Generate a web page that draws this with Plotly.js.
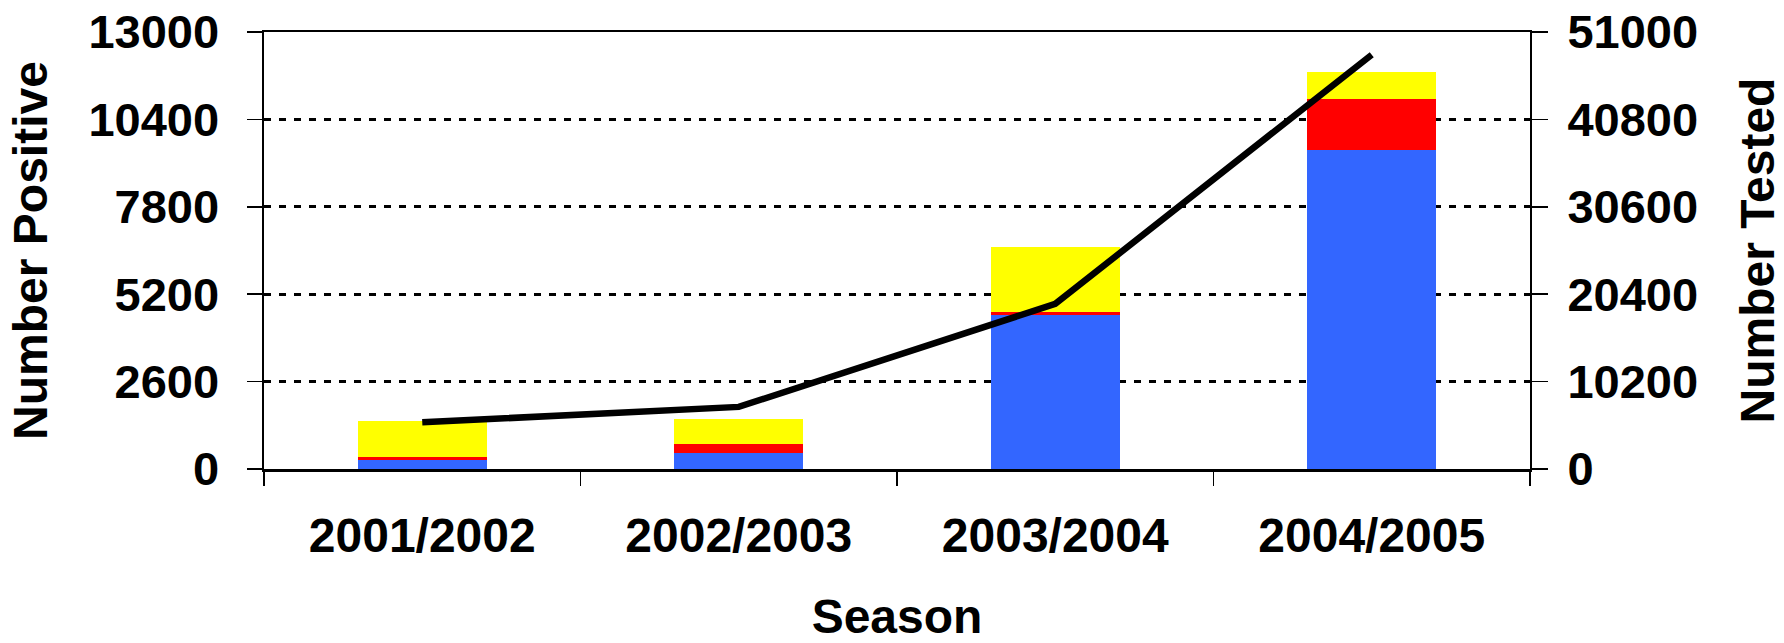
<!DOCTYPE html>
<html>
<head>
<meta charset="utf-8">
<script src="https://cdn.plot.ly/plotly-3.0.1.min.js"></script>
<style>
html,body{margin:0;padding:0;background:#fff;}
#chart{width:1784px;height:643px;}
</style>
</head>
<body>
<div id="chart"></div>
<script>
const seasons = ['2001/2002', '2002/2003', '2003/2004', '2004/2005'];
const positiveBlue = [255, 490, 4570, 9490];
const positiveRed = [90, 240, 90, 1505];
const positiveYellow = [1075, 750, 1940, 825];
const numberTested = [5450, 7250, 19270, 48350];
const leftTicks = [0, 2600, 5200, 7800, 10400, 13000];
const rightTicks = [0, 10200, 20400, 30600, 40800, 51000];

const FONT = 'Liberation Sans, Arial, sans-serif';

const traces = [
  {type: 'bar', name: 'Blue', x: seasons, y: positiveBlue, marker: {color: '#3366FF'}, yaxis: 'y'},
  {type: 'bar', name: 'Red', x: seasons, y: positiveRed, marker: {color: '#FF0000'}, yaxis: 'y'},
  {type: 'bar', name: 'Yellow', x: seasons, y: positiveYellow, marker: {color: '#FFFF00'}, yaxis: 'y'},
  {type: 'scatter', mode: 'lines', name: 'Number Tested', x: seasons, y: numberTested,
   line: {color: '#000000', width: 6.5}, yaxis: 'y2'}
];

const layout = {
  width: 1784, height: 643,
  margin: {l: 264, r: 254, t: 32, b: 174},
  barmode: 'stack',
  bargap: 0.592,
  showlegend: false,
  paper_bgcolor: '#ffffff',
  plot_bgcolor: '#ffffff',
  font: {family: FONT, color: '#000000', size: 46, weight: 'bold'},
  xaxis: {
    type: 'category',
    title: {text: '<b>Season</b>', font: {family: FONT, size: 48, color: '#000'}, standoff: 56},
    tickfont: {family: FONT, size: 48, color: '#000', weight: 'bold'},
    ticks: 'outside', tickson: 'boundaries', ticklen: 14, tickwidth: 1.5, tickcolor: '#000',
    ticklabelstandoff: 23,
    showline: true, linecolor: '#000', linewidth: 2.5, mirror: true,
    showgrid: false, zeroline: false, automargin: false
  },
  yaxis: {
    range: [0, 13000], tickvals: leftTicks, ticktext: leftTicks.map(String),
    title: {text: '<b>Number Positive</b>', font: {family: FONT, size: 48, color: '#000'}, standoff: 26},
    tickfont: {family: FONT, size: 47, color: '#000', weight: 'bold'},
    ticks: 'outside', ticklen: 15, tickwidth: 1.5, tickcolor: '#000',
    ticklabelstandoff: 18,
    showline: true, linecolor: '#000', linewidth: 2.5,
    showgrid: true, gridcolor: '#000', gridwidth: 3, griddash: '7px,8px',
    zeroline: false, automargin: false
  },
  yaxis2: {
    overlaying: 'y', side: 'right',
    range: [0, 51000], tickvals: rightTicks, ticktext: rightTicks.map(String),
    title: {text: '<b>Number Tested</b>', font: {family: FONT, size: 48, color: '#000'}, standoff: 48},
    tickfont: {family: FONT, size: 47, color: '#000', weight: 'bold'},
    ticks: 'outside', ticklen: 16, tickwidth: 1.5, tickcolor: '#000',
    ticklabelstandoff: 10,
    showline: true, linecolor: '#000', linewidth: 2,
    showgrid: false, zeroline: false, automargin: false
  }
};

Plotly.newPlot('chart', traces, layout, {displayModeBar: false, staticPlot: true});
</script>
</body>
</html>
